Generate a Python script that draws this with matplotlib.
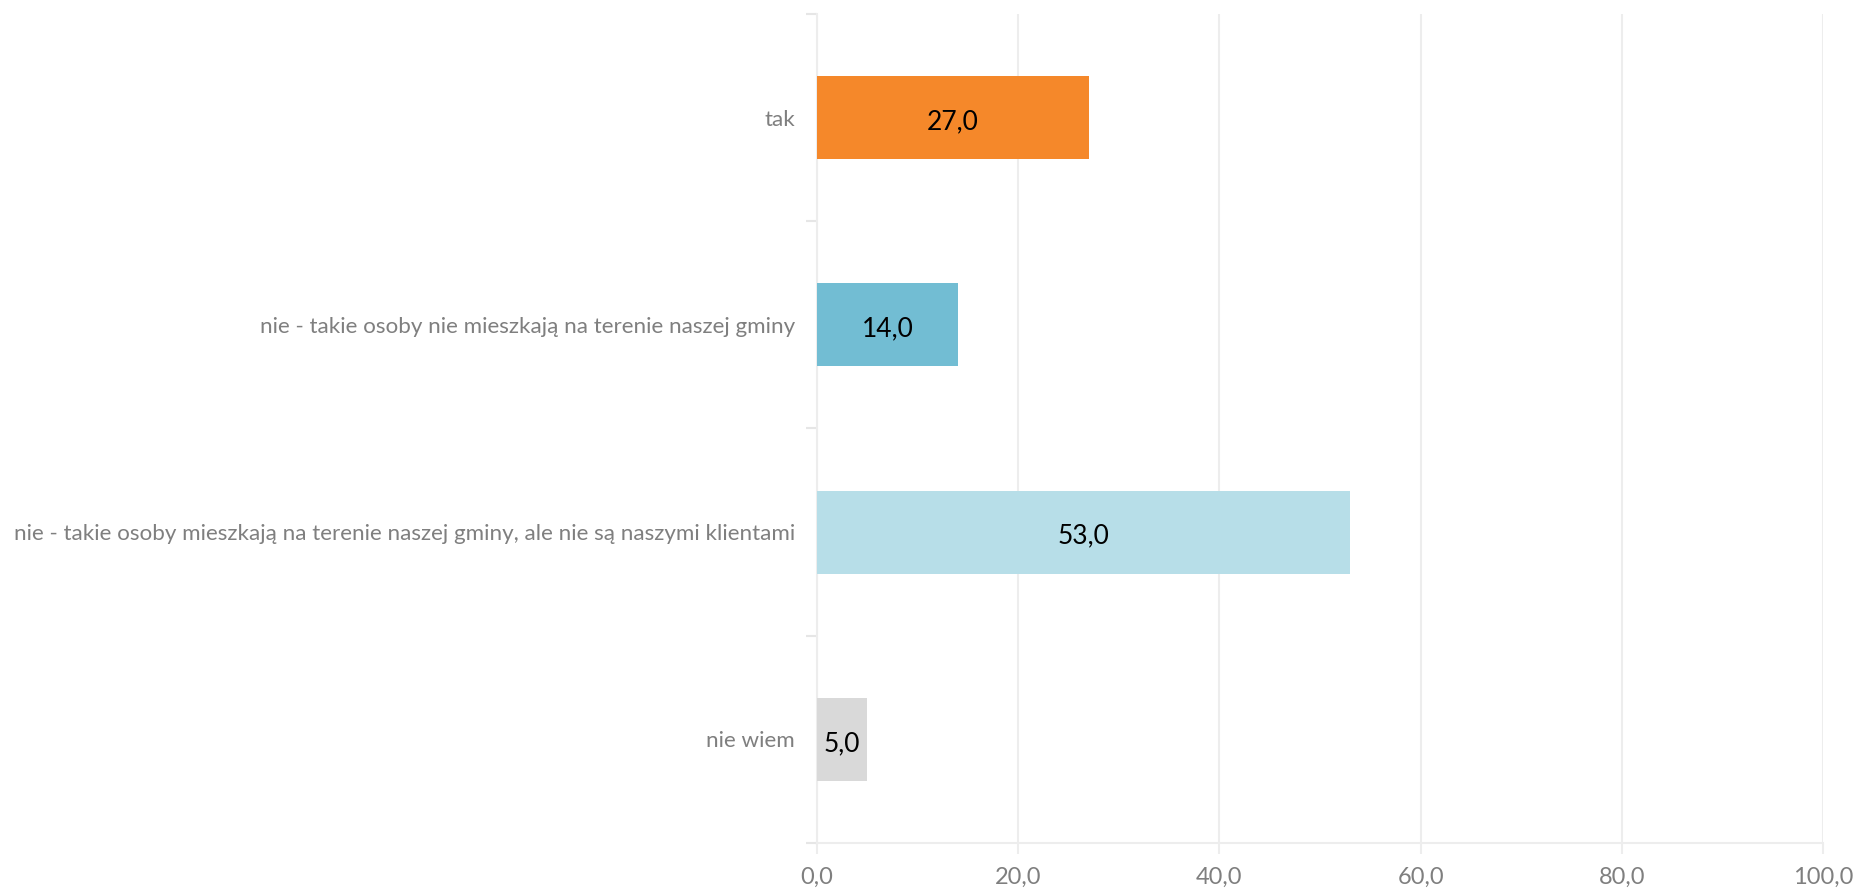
import matplotlib
matplotlib.use("Agg")
import matplotlib.pyplot as plt
from matplotlib.ticker import FixedLocator, FuncFormatter

categories = [
    "tak",
    "nie - takie osoby nie mieszkają na terenie naszej gminy",
    "nie - takie osoby mieszkają na terenie naszej gminy, ale nie są naszymi klientami",
    "nie wiem",
]
values = [27.0, 14.0, 53.0, 5.0]
colors = ["#F5882A", "#72BDD3", "#B7DEE8", "#D9D9D9"]
xticks = [0, 20, 40, 60, 80, 100]

plt.rcParams['font.family'] = ['Lato', 'DejaVu Sans']

fig = plt.figure(figsize=(18.56, 8.88), dpi=100)
ax = fig.add_axes([817/1856, 1-843/888, (1823-817)/1856, (843-14)/888])

n = len(categories)
ypos = list(range(n))
ax.barh(ypos, values, height=0.4, color=colors, zorder=3)
ax.set_ylim(n - 0.5, -0.5)
ax.set_xlim(0, 100)

for y, v in zip(ypos, values):
    ax.text(v / 2, y + 0.02, f"{v:.1f}".replace(".", ","), ha="center", va="center",
            fontsize=19, color="black", zorder=4)

ax.set_yticks(ypos)
ax.set_yticklabels(categories, fontsize=16.1, color="#7F7F7F")
ax.yaxis.set_minor_locator(FixedLocator([i - 0.5 for i in range(n + 1)]))
ax.tick_params(axis="y", which="major", length=0, pad=16)
ax.tick_params(axis="y", which="minor", length=8, color="#E6E6E6", width=1.5)

ax.set_xticks(xticks)
ax.xaxis.set_major_formatter(FuncFormatter(lambda v, p: f"{v:.1f}".replace(".", ",")))
ax.tick_params(axis="x", length=8, color="#EDEDED", width=1.5, labelsize=17,
               labelcolor="#7F7F7F", pad=9)

ax.grid(axis="x", color="#EDEDED", linewidth=1.5, zorder=0)
for s in ["top", "right"]:
    ax.spines[s].set_visible(False)
for s in ["left", "bottom"]:
    ax.spines[s].set_color("#EDEDED")
    ax.spines[s].set_linewidth(1.5)

fig.savefig("out.png", dpi=100, facecolor="white")
